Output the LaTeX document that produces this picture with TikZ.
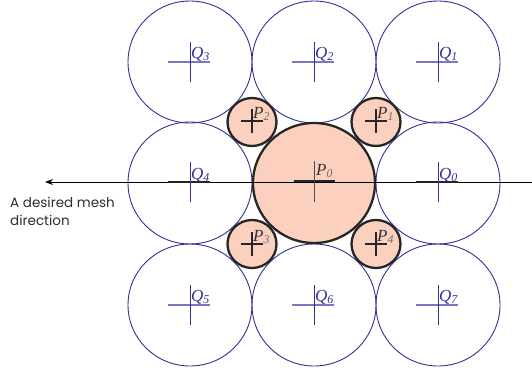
\documentclass[tikz,border=0pt]{standalone}
\usepackage{fontspec}
\setmainfont{Liberation Serif}
\newfontfamily\labelsans{Poppins}
\usetikzlibrary{shapes.geometric,arrows.meta}
\definecolor{qblue}{RGB}{48,48,150}
\definecolor{qlight}{RGB}{120,120,195}
\definecolor{pfill}{RGB}{251,208,190}
\definecolor{txtgray}{RGB}{45,45,45}
\definecolor{subgray}{RGB}{110,110,110}
\begin{document}
\begin{tikzpicture}[x=1pt,y=1pt,
  qcirc/.style={ellipse,draw=qblue,line width=0.9pt,minimum width=124pt,minimum height=122pt,inner sep=0pt},
  psmall/.style={ellipse,draw=black!85,fill=pfill,line width=2.3pt,minimum width=49pt,minimum height=48pt,inner sep=0pt},
  pbig/.style={ellipse,draw=black!85,fill=pfill,line width=2.3pt,minimum width=122pt,minimum height=120pt,inner sep=0pt},
  qv/.style={draw=qblue,line width=0.9pt},
  qh/.style={draw=qlight,line width=1.5pt},
  pcross/.style={draw=black!85,line width=2pt},
  qlab/.style={text=qblue,font=\fontsize{17}{17}\selectfont\itshape,anchor=base west,inner sep=0pt},
  plab/.style={text=black!80,font=\fontsize{17}{17}\selectfont\itshape,anchor=base west,inner sep=0pt},
  desc/.style={text=txtgray,font=\labelsans\fontsize{13.5}{18.5}\selectfont,align=left,anchor=north west,inner sep=0pt},
  meshdir/.style={draw=black,line width=0.9pt,-{Stealth[length=8pt,width=6pt]}}
]
\useasboundingbox (0,0) rectangle (532,-372);

% grid circles
\foreach \n/\x/\y in {Q3/190/-62,Q2/314/-62,Q1/438/-62,Q4/190/-183,Q0/438/-183,Q5/190/-305,Q6/314/-305,Q7/438/-305}
  \node[qcirc] (c\n) at (\x,\y) {};

% P circles
\node[pbig] (cP0) at (314,-183) {};
\foreach \n/\x/\y in {P2/252/-122,P1/376/-122,P3/252/-244,P4/376/-244}
  \node[psmall] (c\n) at (\x,\y) {};

% mesh direction arrow
\coordinate (arrowstart) at (532,-182);
\coordinate (arrowend) at (45,-182);
\draw[meshdir] (arrowstart) -- (arrowend);

% Q crosses
\foreach \n/\x/\y in {Q3/190/-62,Q2/314/-62,Q1/438/-62,Q5/190/-305,Q6/314/-305,Q7/438/-305}{
  \draw[qh] (\x-22,\y) -- (\x+20,\y);
  \draw[qv] (\x,\y+20) -- (\x,\y-20);
}
\foreach \n/\x/\y in {Q4/190/-182,Q0/438/-182}{
  \draw[pcross] (\x-22,\y) -- (\x+20,\y);
  \draw[qv] (\x,\y+20) -- (\x,\y-20);
}
% P crosses
\foreach \n/\x/\y in {P2/252/-121,P1/376/-121,P3/252/-244,P4/376/-244}{
  \draw[pcross] (\x-11,\y) -- (\x+11,\y);
  \draw[pcross] (\x,\y+12) -- (\x,\y-12);
}
\draw[pcross] (294,-181) -- (335,-181);
\draw[draw=black!70,line width=0.9pt] (314,-161) -- (314,-202);

% labels
\foreach \n/\d/\x/\y in {Q3/3/191/-58,Q2/2/315/-58,Q1/1/439/-58,Q4/4/191/-179,Q0/0/439/-179,Q5/5/191/-301,Q6/6/315/-301,Q7/7/439/-301}
  \node[qlab] (l\n) at (\x,\y) {Q\textsubscript{\d}};
\foreach \n/\d/\x/\y in {P2/2/253/-118,P1/1/377/-118,P3/3/253/-241,P4/4/377/-241,P0/0/316/-175}
  \node[plab] (l\n) at (\x,\y) {P\textsubscript{\color{subgray}\d}};

\node[desc] (desctext) at (10,-197) {A desired mesh\\direction};
\end{tikzpicture}
\end{document}
